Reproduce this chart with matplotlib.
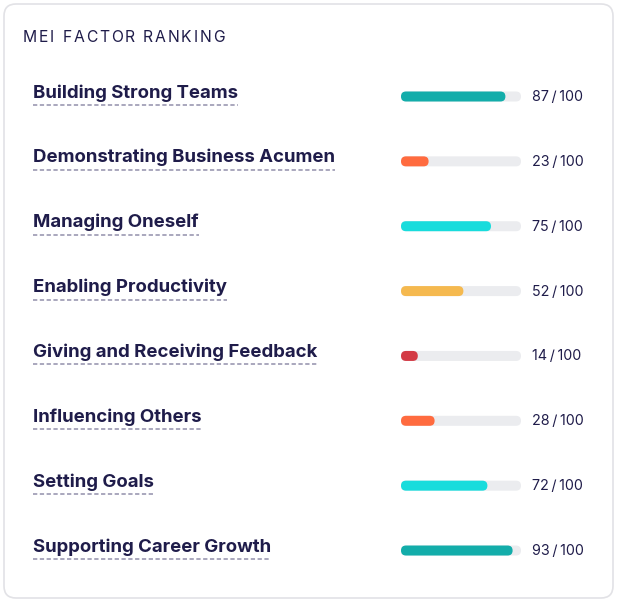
import matplotlib
matplotlib.use('Agg')
import matplotlib.pyplot as plt
from matplotlib.patches import FancyBboxPatch

# data
factors = ['Building Strong Teams', 'Demonstrating Business Acumen', 'Managing Oneself',
           'Enabling Productivity', 'Giving and Receiving Feedback', 'Influencing Others',
           'Setting Goals', 'Supporting Career Growth']
scores = [87, 23, 75, 52, 14, 28, 72, 93]
max_score = 100
bar_colors = ['#13ADAA', '#FF6B3F', '#18DCDC', '#F5B94F', '#D33A45', '#FF6B3F', '#18DCDC', '#13ADAA']

navy = '#1F1C4A'
track = '#EBECEF'

W, H = 617, 603
fig = plt.figure(figsize=(W / 100, H / 100), dpi=100)
ax = fig.add_axes([0, 0, 1, 1])
ax.set_xlim(0, W)
ax.set_ylim(H, 0)
ax.axis('off')
rend = fig.canvas.get_renderer()

# card
card = FancyBboxPatch((4, 4), 609, 594, boxstyle='round,pad=0,rounding_size=12',
                      fc='white', ec='#E2E2E6', lw=1.2)
ax.add_patch(card)

# letter-spaced title
x = 23
for ch in 'MEI FACTOR RANKING':
    t = ax.text(x, 42, ch, fontsize=11.3, color=navy, va='baseline', family='Inter')
    x += t.get_window_extent(renderer=rend).width + 1.8

row0, step = 91, 64.86
bx0, blen, bh = 401, 120, 10
for i, (name, val, col) in enumerate(zip(factors, scores, bar_colors)):
    y = row0 + i * step
    t = ax.text(33, y + 6.5, name, fontsize=13.4, color=navy, va='baseline', family='Inter',
                fontweight='bold')
    bb = t.get_window_extent(renderer=rend)
    ax.plot([33, 33 + bb.width], [y + 14, y + 14], color='#A9A7BD', lw=1.4,
            ls=(0, (2.2, 1.3)))
    yb = y + 5.5
    ax.add_patch(FancyBboxPatch((bx0, yb - bh / 2), blen, bh,
                                boxstyle='round,pad=0,rounding_size=5', fc=track, ec='none'))
    ax.add_patch(FancyBboxPatch((bx0, yb - bh / 2), blen * val / max_score, bh,
                                boxstyle='round,pad=0,rounding_size=5', fc=col, ec='none'))
    ax.text(532, y + 10, f'{val}\u2009/\u2009{max_score}', fontsize=10.3, color=navy,
            va='baseline', family='Inter')

fig.savefig('out.png', dpi=100)
